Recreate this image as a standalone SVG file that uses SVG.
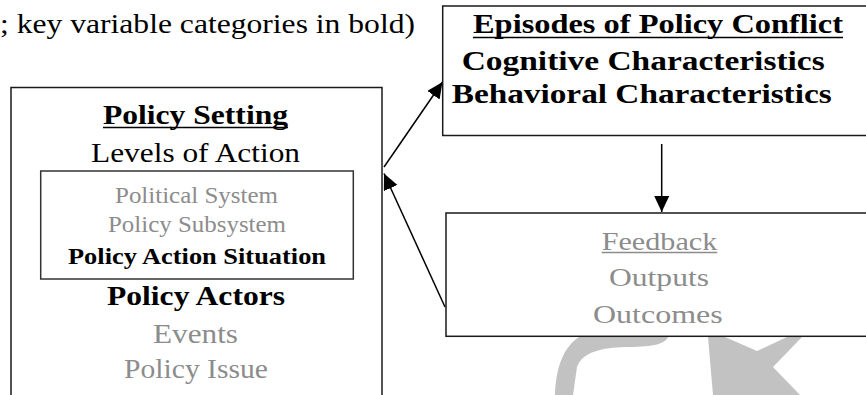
<svg xmlns="http://www.w3.org/2000/svg" width="866" height="395" viewBox="0 0 866 395">
<defs>
<style>
.box{fill:#fff;stroke:#1a1a1a;stroke-width:1.5}
.inner{fill:none;stroke:#333;stroke-width:1.5}
.t{font-family:"Liberation Serif","Times New Roman",serif;fill:#000}
.b{font-weight:bold}
.g{fill:#8c8c8c}
.ul{stroke:#000;stroke-width:1.6}
.ulg{stroke:#8c8c8c;stroke-width:1.6}
.conn{stroke:#000;stroke-width:1.5;fill:none;marker-end:url(#ah)}
.wm{fill:#c2c2c2}
</style>
<marker id="ah" markerUnits="userSpaceOnUse" markerWidth="17" markerHeight="16" refX="16" refY="7.5" orient="auto">
<path d="M0,0 L16,7.5 L0,15 Z" fill="#000"/>
</marker>
</defs>
<rect width="866" height="395" fill="#fff"/>
<text class="t" x="0" y="33" font-size="26.5" textLength="415" lengthAdjust="spacingAndGlyphs">; key variable categories in bold)</text>

<g id="watermark">
<path class="wm" d="M555,395 C556,366 564,347 579,337 L668,337 C664,345 650,347 625,347 C603,348 583,351 577,367 L573,395 Z"/>
<path class="wm" d="M708,337 L725,337 L757,351 L787,337 L802,337 L773,367 L800,395 L713,395 Z"/>
</g>

<g id="policy-setting">
<rect class="box" x="11" y="87.5" width="371" height="400"/>
<text class="t b" x="103" y="123.5" font-size="27" textLength="185" lengthAdjust="spacingAndGlyphs">Policy Setting</text>
<line class="ul" x1="103" y1="127.5" x2="288" y2="127.5"/>
<text class="t" x="91" y="161.5" font-size="28" textLength="209" lengthAdjust="spacingAndGlyphs">Levels of Action</text>
<g id="levels">
<rect class="inner" x="40.7" y="171" width="312.6" height="108"/>
<text class="t g" x="115" y="203" font-size="23.5" textLength="163" lengthAdjust="spacingAndGlyphs">Political System</text>
<text class="t g" x="108" y="231.5" font-size="23.5" textLength="178" lengthAdjust="spacingAndGlyphs">Policy Subsystem</text>
<text class="t b" x="68" y="264.3" font-size="23.5" textLength="258" lengthAdjust="spacingAndGlyphs">Policy Action Situation</text>
</g>
<text class="t b" x="107" y="305" font-size="27.5" textLength="178" lengthAdjust="spacingAndGlyphs">Policy Actors</text>
<text class="t g" x="153" y="343" font-size="26.5" textLength="85" lengthAdjust="spacingAndGlyphs">Events</text>
<text class="t g" x="124" y="378" font-size="26.5" textLength="144" lengthAdjust="spacingAndGlyphs">Policy Issue</text>
</g>

<g id="episodes">
<rect class="box" x="442.7" y="6" width="440" height="129.5"/>
<text class="t b" x="473" y="33.3" font-size="27" textLength="370" lengthAdjust="spacingAndGlyphs">Episodes of Policy Conflict</text>
<line class="ul" x1="473" y1="37.5" x2="843" y2="37.5"/>
<text class="t b" x="461.7" y="70" font-size="27" textLength="363" lengthAdjust="spacingAndGlyphs">Cognitive Characteristics</text>
<text class="t b" x="451.7" y="102.7" font-size="27" textLength="380" lengthAdjust="spacingAndGlyphs">Behavioral Characteristics</text>
</g>

<g id="feedback">
<rect class="box" x="446" y="213" width="440" height="123.3"/>
<text class="t g" x="601.7" y="249.5" font-size="26" textLength="115.6" lengthAdjust="spacingAndGlyphs">Feedback</text>
<line class="ulg" x1="601.7" y1="252.5" x2="717.3" y2="252.5"/>
<text class="t g" x="609" y="286" font-size="26" textLength="100" lengthAdjust="spacingAndGlyphs">Outputs</text>
<text class="t g" x="593" y="322.7" font-size="26" textLength="129.7" lengthAdjust="spacingAndGlyphs">Outcomes</text>
</g>

<g id="connectors">
<line class="conn" x1="384" y1="167" x2="442.5" y2="82"/>
<line class="conn" x1="445" y1="307" x2="384" y2="173.5"/>
<line class="conn" x1="661.7" y1="144" x2="661.7" y2="212"/>
</g>
</svg>
